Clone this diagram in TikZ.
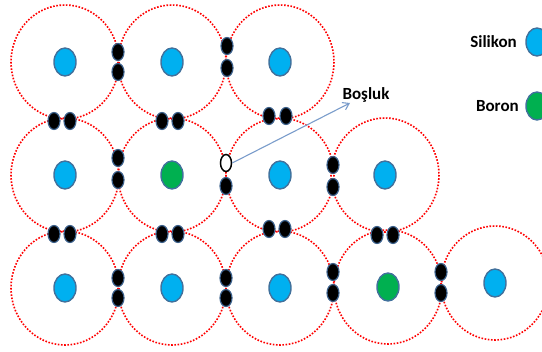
\documentclass[tikz,border=0pt]{standalone}
\usepackage{fontspec}
\setmainfont{Carlito}
\usetikzlibrary{arrows.meta,shapes.geometric}
\definecolor{siblue}{HTML}{00B0F0}
\definecolor{bgreen}{HTML}{00B050}
\definecolor{atomedge}{HTML}{41719C}
\definecolor{eedge}{HTML}{3A5F8A}
\definecolor{arrowblue}{HTML}{7A9CCB}
\begin{document}
\begin{tikzpicture}[x=1pt,y=-1pt,
  shell/.style={draw=red, line width=1.6pt, dash pattern=on 1.6pt off 1.6pt},
  si/.style={ellipse, fill=siblue, draw=atomedge, line width=1.4pt, minimum width=22pt, minimum height=28pt, inner sep=0pt},
  bo/.style={si, fill=bgreen},
  electron/.style={ellipse, fill=black, draw=eedge, line width=1.2pt, minimum width=12pt, minimum height=17pt, inner sep=0pt},
  hole/.style={ellipse, fill=white, draw=black, line width=1.5pt, minimum width=11pt, minimum height=17pt, inner sep=0pt},
  lbl/.style={font=\fontsize{17}{20}\selectfont\bfseries, inner sep=0pt},
  pointer/.style={draw=arrowblue, line width=1.1pt, -{Straight Barb[length=6pt,width=8pt]}}
]
\useasboundingbox (0,0) rectangle (542,352);
\clip (0,0) rectangle (542,352);

% dotted electron shells around each atom
\foreach \cx/\cy in {65/62,172/62,280/62,
                     65/175,172/175,280/175,385/175,
                     65/288,172/288,280/288,388/287,495/283}
  \draw[shell] (\cx,\cy) ellipse [x radius=54, y radius=57];

% atoms
\node[si] (a11) at (65,62) {};
\node[si] (a12) at (172,62) {};
\node[si] (a13) at (280,62) {};
\node[si] (a21) at (65,175) {};
\node[bo] (a22) at (172,175) {};
\node[si] (a23) at (280,175) {};
\node[si] (a24) at (385,175) {};
\node[si] (a31) at (65,288) {};
\node[si] (a32) at (172,288) {};
\node[si] (a33) at (280,288) {};
\node[bo] (a34) at (388,287) {};
\node[si] (a35) at (495,283) {};

% bonding electrons, first row
\node[electron] (e1) at (118,52) {};
\node[electron] (e2) at (118,72) {};
\node[electron] (e3) at (227,46) {};
\node[electron] (e4) at (227,68) {};
% between first and second row
\node[electron] (e5) at (54,121) {};
\node[electron] (e6) at (70,121) {};
\node[electron] (e7) at (162,121) {};
\node[electron] (e8) at (178,121) {};
\node[electron] (e9) at (269,116) {};
\node[electron] (e10) at (286,116) {};
% second row
\node[electron] (e11) at (118,158) {};
\node[electron] (e12) at (118,180) {};
\node[hole] (h) at (226,163) {};
\node[electron] (e13) at (226,186) {};
\node[electron] (e14) at (333,165) {};
\node[electron] (e15) at (333,187) {};
% between second and third row
\node[electron] (e16) at (54,234) {};
\node[electron] (e17) at (70,234) {};
\node[electron] (e18) at (162,234) {};
\node[electron] (e19) at (178,234) {};
\node[electron] (e20) at (269,229) {};
\node[electron] (e21) at (285,229) {};
\node[electron] (e22) at (377,235) {};
\node[electron] (e23) at (393,235) {};
% third row
\node[electron] (e24) at (118,278) {};
\node[electron] (e25) at (118,298) {};
\node[electron] (e26) at (226,278) {};
\node[electron] (e27) at (226,298) {};
\node[electron] (e28) at (333,272) {};
\node[electron] (e29) at (333,293) {};
\node[electron] (e30) at (441,272) {};
\node[electron] (e31) at (441,293) {};

% hole label
\coordinate (tip) at (350,103);
\node[lbl] (bosluk) at (366,95) {Boşluk};
\draw[pointer] (h.east) -- (tip);

% legend
\node[lbl, anchor=east] (tsi) at (517,42) {Silikon};
\node[si] (lsi) at (537,42) {};
\node[lbl, anchor=east] (tbo) at (519,106) {Boron};
\node[bo] (lbo) at (537,106) {};
\end{tikzpicture}
\end{document}
